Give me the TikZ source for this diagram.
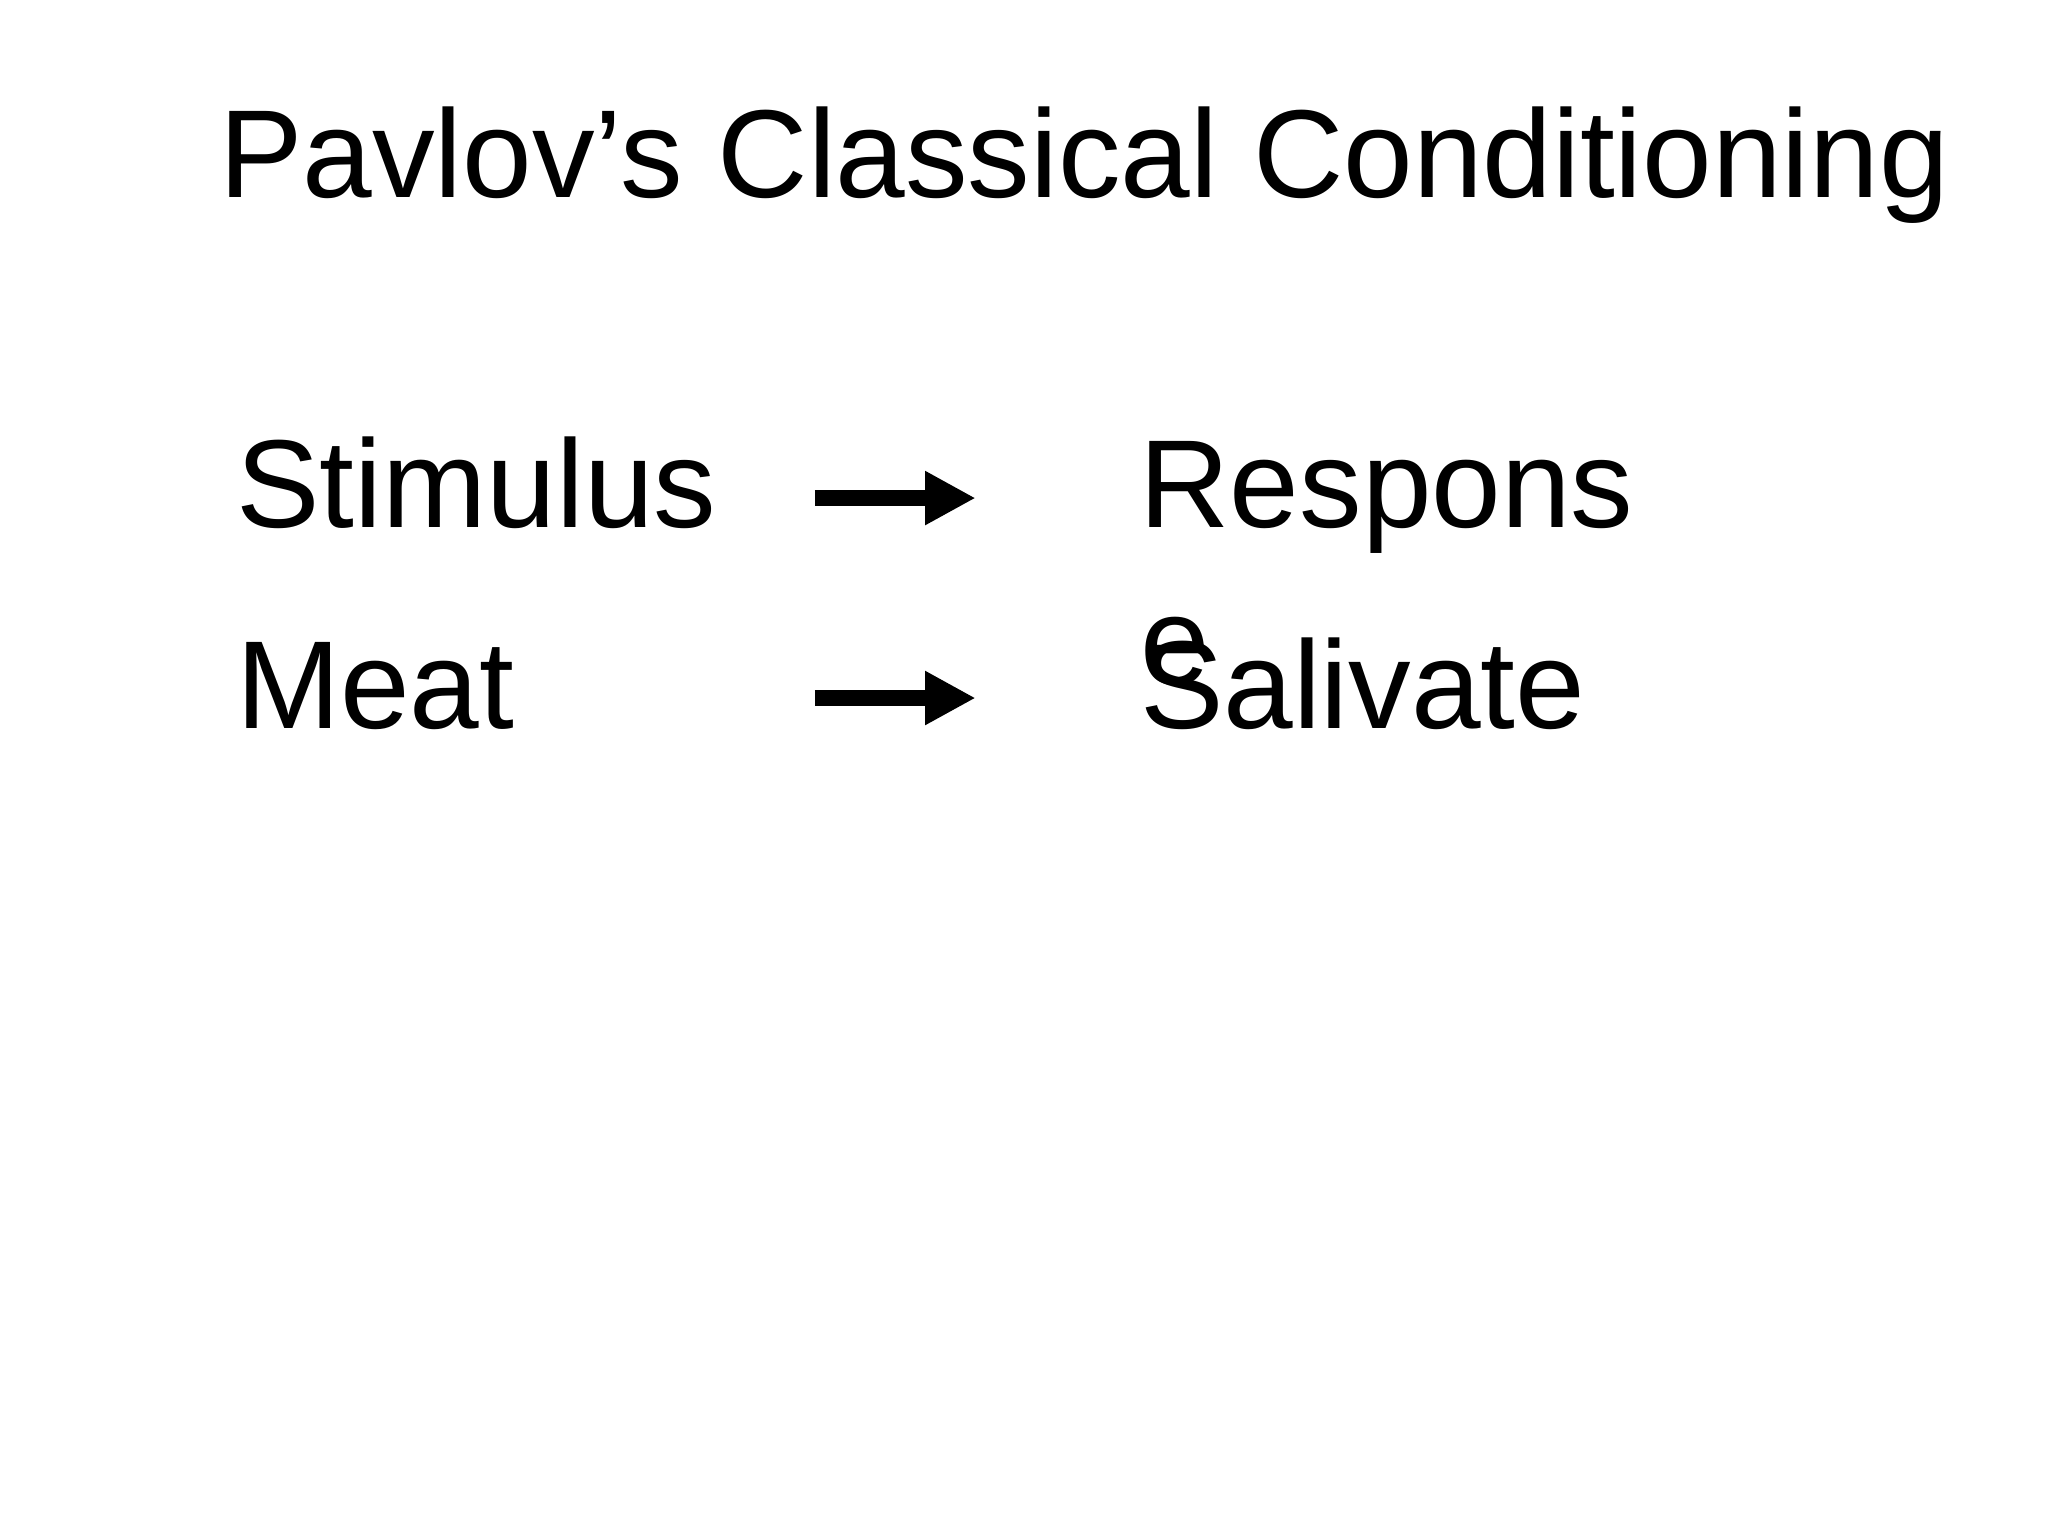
\documentclass[tikz,border=0pt]{standalone}
\usepackage{fontspec}
\setmainfont{Liberation Sans}
\usetikzlibrary{arrows.meta}
\begin{document}
\begin{tikzpicture}[x=1pt,y=1pt,
  txt/.style={anchor=base west,inner sep=0pt,outer sep=0pt,font=\fontsize{44}{50}\selectfont},
  blockarrow/.style={line width=5.9pt,line cap=butt,-{Triangle[length=17.8pt,width=17.8pt]}}]
\useasboundingbox[fill=white] (0,0) rectangle (720,-540);
\node[txt] (title) at (77.1,-69.3) {Pavlov’s Classical Conditioning};
\node[txt] (stim) at (83.1,-185.6) {Stimulus};
\node[txt] (meat) at (83.0,-256) {Meat};
\node[txt] (resp) at (400.6,-185.6) {Respons};
\node[txt] (respe) at (400.8,-240.5) {e};
\node[txt] (sal) at (400.8,-256) {Salivate};
\coordinate (a1s) at (286.5,-175.1);
\coordinate (a1e) at (343.0,-175.1);
\coordinate (a2s) at (286.5,-245.4);
\coordinate (a2e) at (343.0,-245.4);
\draw[blockarrow] (a1s) -- (a1e);
\draw[blockarrow] (a2s) -- (a2e);
\end{tikzpicture}
\end{document}
